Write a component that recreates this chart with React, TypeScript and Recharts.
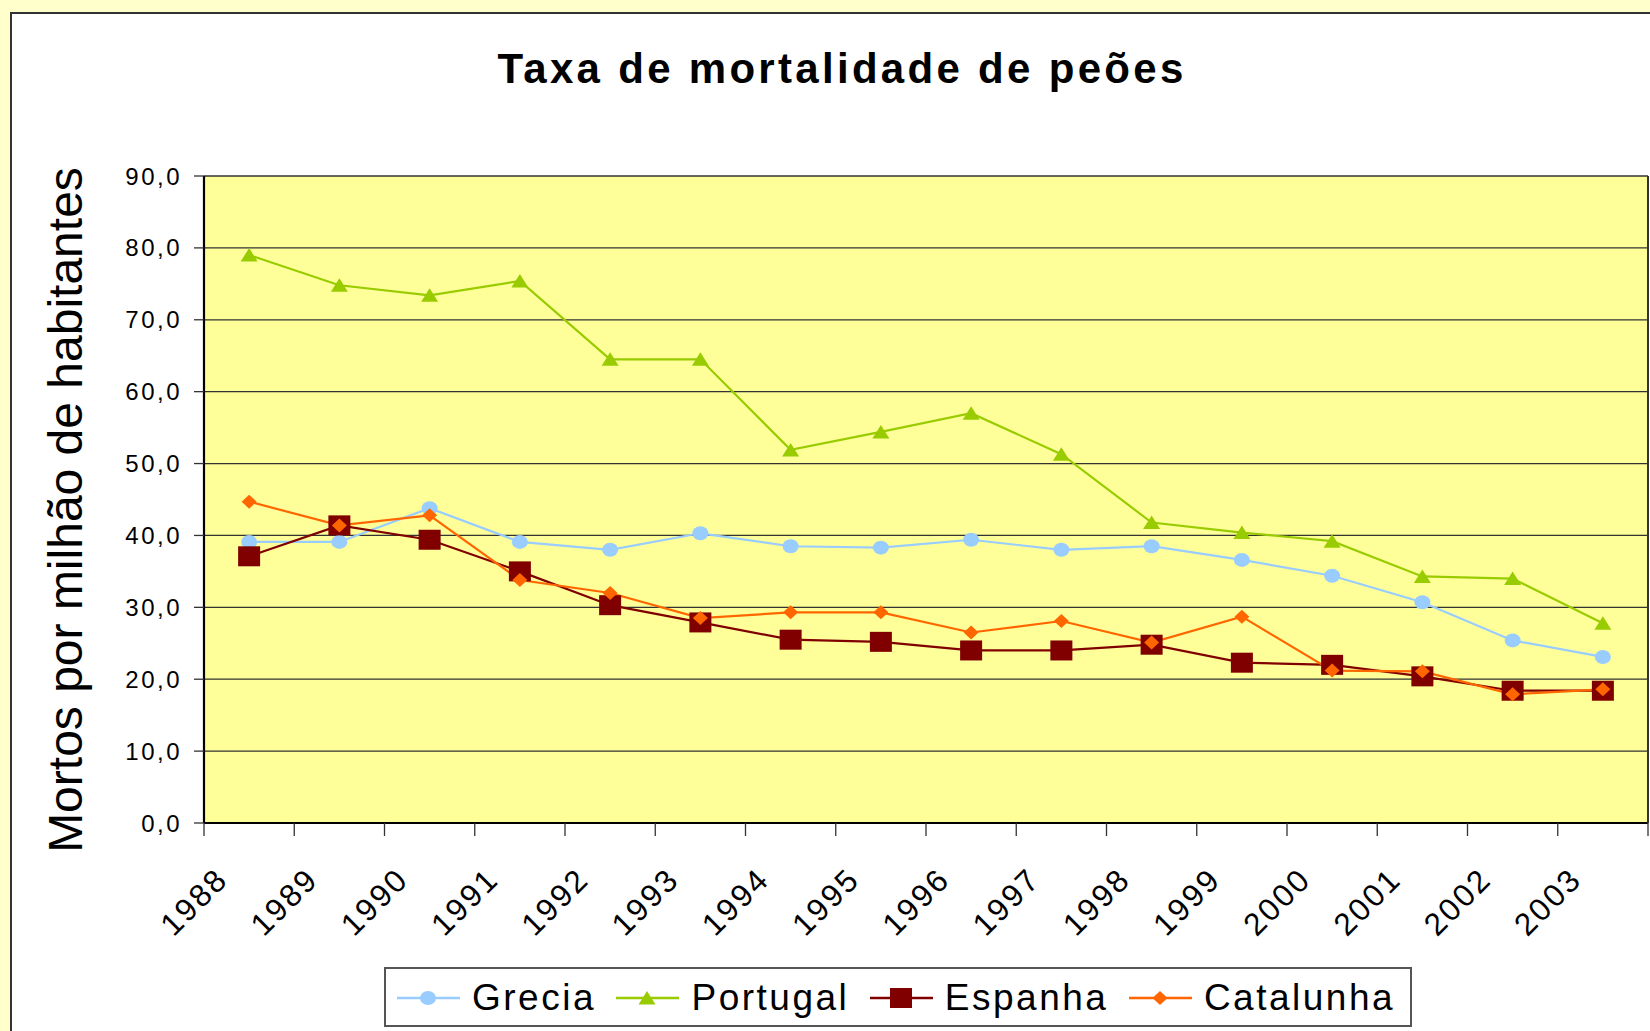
import React from 'react';
import { LineChart, Line, XAxis, YAxis, CartesianGrid } from 'recharts';

// ---------- data ----------
const years = [1988, 1989, 1990, 1991, 1992, 1993, 1994, 1995, 1996, 1997, 1998, 1999, 2000, 2001, 2002, 2003];
const grecia = [39.1, 39.1, 43.8, 39.1, 38.0, 40.3, 38.5, 38.3, 39.4, 38.0, 38.5, 36.6, 34.4, 30.7, 25.4, 23.1];
const portugal = [79.0, 74.8, 73.4, 75.4, 64.5, 64.5, 51.9, 54.4, 57.0, 51.3, 41.8, 40.4, 39.2, 34.3, 34.0, 27.8];
const espanha = [37.1, 41.4, 39.4, 35.0, 30.3, 27.9, 25.5, 25.2, 24.0, 24.0, 24.8, 22.3, 22.0, 20.4, 18.4, 18.4];
const catalunha = [44.7, 41.4, 42.8, 33.8, 32.0, 28.5, 29.3, 29.3, 26.5, 28.1, 25.1, 28.7, 21.2, 21.1, 17.9, 18.6];
const yTicks = [0, 10, 20, 30, 40, 50, 60, 70, 80, 90];
const seriesNames = ['Grecia', 'Portugal', 'Espanha', 'Catalunha'];
const title = 'Taxa de mortalidade de peões';
const yLabel = 'Mortos por milhão de habitantes';

// ---------- derived ----------
const seriesValues = [grecia, portugal, espanha, catalunha];
const data = years.map((y, i) => {
  const row: any = { year: y };
  seriesNames.forEach((n, k) => { row[n] = seriesValues[k][i]; });
  return row;
});
const xTicks = [...years.map((y) => y - 0.5), years[years.length - 1] + 0.5];

// ---------- styles ----------
const FONT = '"Liberation Sans", Arial, sans-serif';
const seriesStyle: Record<string, { color: string; shape: string; width: number }> = {
  Grecia: { color: '#99CCFF', shape: 'circle', width: 2.2 },
  Portugal: { color: '#99CC00', shape: 'triangle', width: 2.2 },
  Espanha: { color: '#800000', shape: 'square', width: 2.2 },
  Catalunha: { color: '#FF6600', shape: 'diamond', width: 2.2 },
};

function MarkerShape({ shape, cx, cy, color }: { shape: string; cx: number; cy: number; color: string }) {
  if (cx == null || cy == null) return null;
  switch (shape) {
    case 'circle':
      return <ellipse cx={cx} cy={cy} rx={8} ry={7} fill={color} />;
    case 'triangle':
      return <polygon points={`${cx},${cy - 7} ${cx + 8.5},${cy + 6.5} ${cx - 8.5},${cy + 6.5}`} fill={color} />;
    case 'square':
      return <rect x={cx - 11} y={cy - 10} width={22} height={20} fill={color} />;
    case 'diamond':
      return <polygon points={`${cx},${cy - 7} ${cx + 7.5},${cy} ${cx},${cy + 7} ${cx - 7.5},${cy}`} fill={color} />;
    default:
      return null;
  }
}

function XTick(props: any) {
  const { x, y, payload } = props;
  const year = payload.value + 0.5;
  if (year > years[years.length - 1]) return <g />;
  const ax = x + 26;
  const ay = y + 43;
  return (
    <text
      x={ax}
      y={ay}
      transform={`rotate(-45, ${ax}, ${ay})`}
      textAnchor="end"
      fontSize={31.5}
      letterSpacing={2.5}
      fill="#000"
      fontFamily={FONT}
    >
      {String(year)}
    </text>
  );
}

function YTick(props: any) {
  const { x, y, payload } = props;
  return (
    <text x={x} y={y + 8.5} textAnchor="end" fontSize={24} letterSpacing={2.5} fill="#000" fontFamily={FONT}>
      {Number(payload.value).toFixed(1).replace('.', ',')}
    </text>
  );
}

function LegendIcon({ name }: { name: string }) {
  const s = seriesStyle[name];
  return (
    <svg width={63} height={30} style={{ display: 'block', flex: '0 0 auto' }}>
      <line x1={0} y1={16} x2={63} y2={16} stroke={s.color} strokeWidth={2.5} />
      <MarkerShape shape={s.shape} cx={31} cy={16} color={s.color} />
    </svg>
  );
}

export default function App() {
  return (
    <div
      style={{
        position: 'fixed',
        left: 0,
        top: 0,
        width: 1650,
        height: 1031,
        overflow: 'hidden',
        background: '#FFFFCC',
        fontFamily: FONT,
      }}
    >
      <div
        style={{
          position: 'absolute',
          left: 10,
          top: 12,
          width: 1720,
          height: 1100,
          background: '#FFFFFF',
          border: '2px solid #333333',
          boxSizing: 'border-box',
        }}
      />
      <div style={{ position: 'absolute', left: 0, top: 0 }}>
        <LineChart
          width={1650}
          height={1031}
          data={data}
          margin={{ top: 176, right: 0, bottom: 0, left: 0 }}
          style={{ fontFamily: FONT }}
        >
          <CartesianGrid vertical={false} stroke="#333333" strokeWidth={1.3} fill="#FFFF99" fillOpacity={1} />
          <XAxis
            type="number"
            dataKey="year"
            domain={[xTicks[0], xTicks[xTicks.length - 1]]}
            ticks={xTicks}
            interval={0}
            height={208}
            tickSize={13}
            tickMargin={2}
            tickLine={{ stroke: '#333333', strokeWidth: 1.3 }}
            axisLine={{ stroke: '#000000', strokeWidth: 2.2 }}
            tick={<XTick />}
            allowDecimals
          />
          <YAxis
            type="number"
            domain={[0, 90]}
            ticks={yTicks}
            interval={0}
            width={204}
            tickSize={10}
            tickMargin={12}
            tickLine={{ stroke: '#333333', strokeWidth: 1.3 }}
            axisLine={{ stroke: '#000000', strokeWidth: 2.2 }}
            tick={<YTick />}
          />
          <YAxis
            yAxisId="right"
            orientation="right"
            type="number"
            domain={[0, 90]}
            width={2}
            tick={false}
            tickLine={false}
            axisLine={{ stroke: '#333333', strokeWidth: 2 }}
          />
          {seriesNames.map((name) => {
            const s = seriesStyle[name];
            return (
              <Line
                key={name}
                type="linear"
                dataKey={name}
                stroke={s.color}
                strokeWidth={s.width}
                isAnimationActive={false}
                activeDot={false}
                dot={(p: any) => (
                  <MarkerShape key={`${name}-${p.index}`} shape={s.shape} cx={p.cx} cy={p.cy} color={s.color} />
                )}
              />
            );
          })}
        </LineChart>
      </div>
      <svg
        width={1650}
        height={1031}
        style={{ position: 'absolute', left: 0, top: 0, pointerEvents: 'none' }}
      >
        <text
          x={842}
          y={83}
          textAnchor="middle"
          fontSize={42}
          fontWeight="bold"
          letterSpacing={3.3}
          fill="#000"
          fontFamily={FONT}
        >
          {title}
        </text>
        <text
          transform="translate(82,510) rotate(-90)"
          x={0}
          y={0}
          textAnchor="middle"
          fontSize={48}
          fill="#000"
          fontFamily={FONT}
        >
          {yLabel}
        </text>
      </svg>
      <div
        style={{
          position: 'absolute',
          left: 384,
          top: 967,
          width: 1028,
          height: 60,
          boxSizing: 'border-box',
          border: '2px solid #555555',
          background: '#FFFFFF',
          display: 'flex',
          alignItems: 'center',
          paddingLeft: 11,
        }}
      >
        {seriesNames.map((name) => (
          <div key={name} style={{ display: 'flex', alignItems: 'center', marginRight: 20.5 }}>
            <LegendIcon name={name} />
            <span
              style={{
                marginLeft: 12,
                fontSize: 37,
                lineHeight: '37px',
                letterSpacing: 2.5,
                color: '#000',
                whiteSpace: 'nowrap',
              }}
            >
              {name}
            </span>
          </div>
        ))}
      </div>
    </div>
  );
}
